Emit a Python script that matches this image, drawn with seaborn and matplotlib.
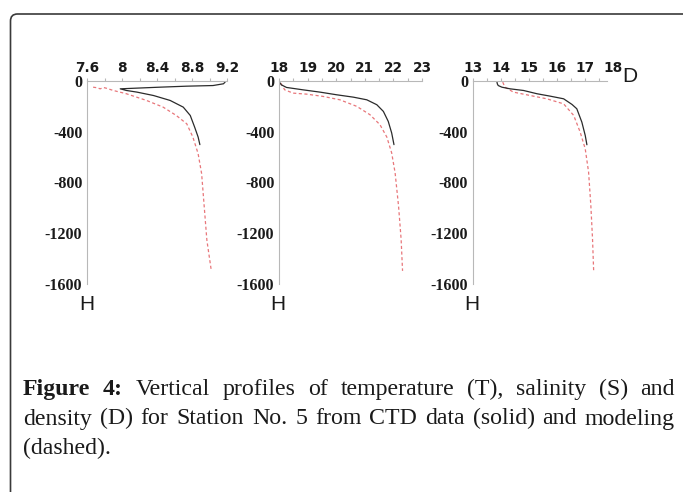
import matplotlib
matplotlib.use("Agg")
import matplotlib.pyplot as plt
import matplotlib.patches as mpatches
from matplotlib.ticker import MultipleLocator
import pandas as pd
import seaborn as sns

sns.set_style("white")
plt.rcParams["font.family"] = ["DejaVu Sans"]

W, H = 683, 492
DPI = 100

# Temperatura (T): CTD (sólido) y modelo (segmentado)
t_ctd = [9.18, 9.16, 9.04, 8.74, 8.43, 7.98, 8.05, 8.17, 8.36, 8.55, 8.70, 8.78, 8.83, 8.87, 8.89]
h_t_ctd = [-3, -18, -32, -37, -45, -58, -71, -84, -111, -150, -203, -269, -361, -440, -500]
t_mod = [7.67, 7.72, 7.75, 7.79, 7.82, 7.90, 8.05, 8.28, 8.47, 8.62, 8.74, 8.81, 8.87, 8.91, 8.94, 8.97, 9.02]
h_t_mod = [-45, -50, -58, -48, -53, -71, -97, -150, -203, -269, -335, -440, -572, -730, -994, -1257, -1495]

# Salinidad (S)
s_ctd = [18.0, 18.08, 18.26, 18.84, 19.43, 20.01, 20.60, 21.07, 21.42, 21.65, 21.82, 21.94, 22.02]
h_s_ctd = [0, -26, -47, -66, -84, -105, -124, -145, -184, -237, -316, -408, -500]
s_mod = [18.06, 18.2, 18.49, 18.96, 19.54, 20.13, 20.72, 21.18, 21.53, 21.77, 21.94, 22.06, 22.18, 22.27, 22.32]
h_s_mod = [-13, -66, -92, -100, -118, -145, -197, -263, -342, -440, -566, -724, -987, -1250, -1500]

# Densidad (D)
d_ctd = [13.86, 13.88, 13.91, 14.04, 14.33, 14.81, 15.29, 15.76, 16.24, 16.54, 16.71, 16.89, 17.01, 17.07]
h_d_ctd = [0, -20, -32, -45, -58, -71, -97, -116, -137, -182, -216, -322, -427, -501]
d_mod = [14.07, 14.15, 14.45, 15.05, 15.64, 16.24, 16.6, 16.83, 17.01, 17.13, 17.21, 17.27, 17.31]
h_d_mod = [-5, -45, -84, -111, -137, -177, -269, -401, -533, -718, -981, -1245, -1496]

x_ticks_t = [7.6, 8, 8.4, 8.8, 9.2]
x_labels_t = ["7.6", "8", "8.4", "8.8", "9.2"]
x_ticks_s = [18, 19, 20, 21, 22, 23]
x_ticks_d = [13, 14, 15, 16, 17, 18]
y_ticks = [0, -400, -800, -1200, -1600]

caption_1 = [("Figure", True), ("4:", True), ("Vertical", False), ("profiles", False), ("of", False),
             ("temperature", False), ("(T),", False), ("salinity", False), ("(S)", False), ("and", False)]
caption_2 = "density (D) for Station No. 5 from CTD data (solid) and modeling"
caption_3 = "(dashed)."

fig = plt.figure(figsize=(W / DPI, H / DPI), dpi=DPI)

# Marco redondeado de la figura
frame = mpatches.FancyBboxPatch((10.5 / DPI, -0.2), 7.2, (H - 14) / DPI + 0.2,
                                boxstyle="round,pad=0,rounding_size=0.07",
                                transform=fig.dpi_scale_trans, fill=False,
                                edgecolor="#3a3a3a", linewidth=1.2)
fig.add_artist(frame)

paneles = [
    # (izq px, ancho px, xlim, ticks, etiquetas, fin del eje, menor, curvas)
    (87, 140, (7.6, 9.2), x_ticks_t, x_labels_t, 9.2, 0.2,
     (t_ctd, h_t_ctd), (t_mod, h_t_mod)),
    (279, 143, (18, 23), x_ticks_s, [str(v) for v in x_ticks_s], 23, 0.5,
     (s_ctd, h_s_ctd), (s_mod, h_s_mod)),
    (472.7, 140.3, (13, 18), x_ticks_d, [str(v) for v in x_ticks_d], 17.8, 0.5,
     (d_ctd, h_d_ctd), (d_mod, h_d_mod)),
]

y_top, y_bot = 81.5, 283.5
axes = []
for left, width, xlim, xt, xl, xend, minor, ctd, mod in paneles:
    ax = fig.add_axes([left / W, 1 - y_bot / H, width / W, (y_bot - y_top) / H])
    ax.patch.set_alpha(0)
    df_ctd = pd.DataFrame({"x": ctd[0], "h": ctd[1]})
    df_mod = pd.DataFrame({"x": mod[0], "h": mod[1]})
    sns.lineplot(data=df_mod, x="x", y="h", sort=False, estimator=None, ax=ax,
                 color="#e8767a", linewidth=0.9, linestyle=(0, (2.5, 2)))
    sns.lineplot(data=df_ctd, x="x", y="h", sort=False, estimator=None, ax=ax,
                 color="#2b2b2b", linewidth=0.9)
    ax.set_xlim(*xlim)
    ax.set_ylim(-1600, 0)
    ax.set_xlabel("")
    ax.set_ylabel("")
    for s in ["bottom", "right"]:
        ax.spines[s].set_visible(False)
    for s in ["top", "left"]:
        ax.spines[s].set_visible(True)
        ax.spines[s].set_color("#b8b8b8")
        ax.spines[s].set_linewidth(0.8)
    ax.spines["top"].set_bounds(xlim[0], xend)
    ax.xaxis.set_ticks_position("top")
    ax.set_xticks(xt)
    ax.set_xticklabels(xl)
    ax.xaxis.set_minor_locator(MultipleLocator(minor))
    ax.set_yticks(y_ticks)
    ax.set_yticklabels([str(v) for v in y_ticks])
    ax.yaxis.set_minor_locator(MultipleLocator(200))
    ax.tick_params(axis="both", which="both", direction="out", color="#b8b8b8",
                   width=0.8, length=2.2)
    ax.tick_params(axis="x", which="major", pad=2.5, labelsize=9.8)
    ax.tick_params(axis="y", which="major", pad=1.2, labelsize=11.5)
    for lab in ax.get_xticklabels():
        lab.set_fontweight("bold")
        lab.set_family(["DejaVu Sans"])
        lab.set_color("#1a1a1a")
    for lab in ax.get_yticklabels():
        lab.set_fontweight("bold")
        lab.set_family(["Liberation Serif", "DejaVu Serif"])
        lab.set_color("#1a1a1a")
    axes.append(ax)

# Ocultar la marca del 18 que queda fuera del eje de densidad
for tk in axes[2].xaxis.get_major_ticks()[-1:]:
    tk.tick2line.set_visible(False)
    tk.tick1line.set_visible(False)

narrow = ["Liberation Sans Narrow", "Liberation Sans", "DejaVu Sans"]
for xh in [86.5, 278, 472]:
    fig.text(xh / W, 1 - 305 / H, "H", family=narrow, fontsize=15,
             ha="center", va="center", color="#1a1a1a")
fig.text(630 / W, 1 - 76 / H, "D", family=narrow, fontsize=15,
         ha="center", va="center", color="#1a1a1a")

# Leyenda de la figura, justificada a mano
serif = ["Liberation Serif", "DejaVu Serif"]
cap_fs = 17.2
renderer = fig.canvas.get_renderer()


def poner_linea(palabras, y_px, x0, x1, justificar):
    arts = []
    for w, negrita in palabras:
        t = fig.text(0, 1 - y_px / H, w, family=serif, fontsize=cap_fs,
                     fontweight="bold" if negrita else "normal",
                     ha="left", va="baseline", color="#1a1a1a")
        arts.append(t)
    anchos = [a.get_window_extent(renderer).width for a in arts]
    if justificar and len(arts) > 1:
        hueco = (x1 - x0 - sum(anchos)) / (len(arts) - 1)
    else:
        hueco = 0.25 * cap_fs * DPI / 72
    x = x0
    for a, w in zip(arts, anchos):
        a.set_x(x / W)
        x += w + hueco


poner_linea(caption_1, 395, 23, 675, True)
poner_linea([(w, False) for w in caption_2.split()], 424.5, 23, 675, True)
poner_linea([(w, False) for w in caption_3.split()], 454, 23, 675, False)

fig.savefig("out.png", dpi=DPI)
